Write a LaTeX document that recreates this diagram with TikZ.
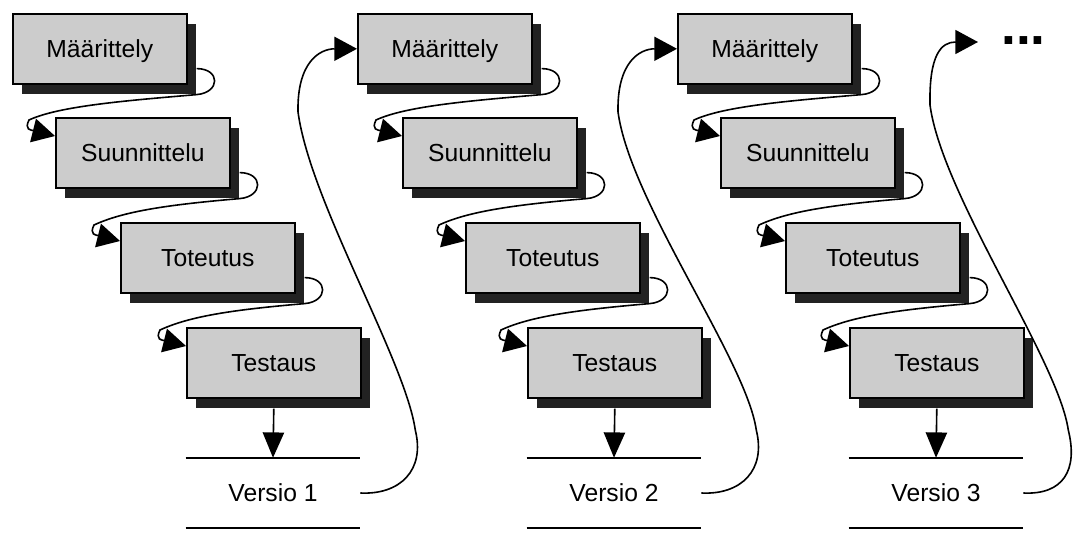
\documentclass[tikz,border=0pt]{standalone}
\usepackage{fontspec}
\setmainfont{Liberation Sans}
\usetikzlibrary{arrows.meta,calc,shadows}
\definecolor{boxfill}{RGB}{204,204,204}
\definecolor{shade}{RGB}{34,34,34}

% small looping link from one phase box to the next one
\newcommand\steplink[2]{%
  \draw[link] ($(#1.south east)+(9,-16)$)
    .. controls +(24,0) and +(24,-2) .. ($(#1.south east)+(9,10)$)
    .. controls +(-70,6) and +(30,-14) .. ($(#2.north west)+(-26,3)$)
    .. controls +(-5,10) and +(-24,-6) .. ($(#2.north west)+(0,19)$);}

% long S-shaped link from a release back up to the next cycle
% #1 release node, #2 target, #3 outward bulge, #4 leftward bulge
\newcommand\versiolink[4]{%
  \draw[link] (#1.east)
    .. controls +(40,2) and +(10,40) .. ($(#1.east)+(#3,-63)$)
    .. controls +(-10,-70) and +(12,90) .. ($(#2)+(#4,63)$)
    .. controls +(-1,-50) and +(-37,0) .. (#2);}

\begin{document}
\begin{tikzpicture}[x=0.75pt,y=-0.75pt,
  phase/.style={draw=black, line width=1.2pt, fill=boxfill,
    minimum width=130.5pt, minimum height=52.5pt, inner sep=0pt,
    anchor=north west, text height=13pt, text depth=0pt,
    font=\fontsize{18.5}{20}\selectfont,
    drop shadow={shadow xshift=6.75pt, shadow yshift=-7.5pt,
      fill=shade, opacity=1}},
  versio/.style={minimum width=130.5pt, minimum height=52.5pt,
    inner sep=0pt, text height=13pt, text depth=0pt,
    font=\fontsize{18.5}{20}\selectfont},
  rule/.style={line width=1.2pt},
  link/.style={line width=1.2pt, -{Triangle[length=17pt,width=18pt]}},
  drop/.style={line width=1.2pt, -{Triangle[length=19pt,width=16pt]}}]
\useasboundingbox (0,0) rectangle (1077,532);

% first cycle
\node[phase] (m1) at (12,13)   {Määrittely};
\node[phase] (s1) at (55,117)  {Suunnittelu};
\node[phase] (t1) at (120,222) {Toteutus};
\node[phase] (e1) at (186,327) {Testaus};
\node[versio] (v1) at (273,493) {Versio 1};

% second cycle
\node[phase] (m2) at (357,13)  {Määrittely};
\node[phase] (s2) at (402,117) {Suunnittelu};
\node[phase] (t2) at (465,222) {Toteutus};
\node[phase] (e2) at (527,327) {Testaus};
\node[versio] (v2) at (614,493) {Versio 2};

% third cycle
\node[phase] (m3) at (677,13)  {Määrittely};
\node[phase] (s3) at (720,117) {Suunnittelu};
\node[phase] (t3) at (785,222) {Toteutus};
\node[phase] (e3) at (849,327) {Testaus};
\node[versio] (v3) at (936,493) {Versio 3};

% continuation
\coordinate (more) at (978,42);
\node[anchor=base west, inner sep=0pt,
  font=\fontsize{40}{40}\selectfont\bfseries] (dots) at (1001,44) {...};

\foreach \a/\b in {m1/s1, s1/t1, t1/e1, m2/s2, s2/t2, t2/e2, m3/s3, s3/t3, t3/e3}
  {\steplink{\a}{\b}}

\foreach \e/\v in {e1/v1, e2/v2, e3/v3} {
  \draw[drop] ($(\e.south)+(0,10)$) -- (\v.north);
  \draw[rule] (\v.north west) -- (\v.north east);
  \draw[rule] (\v.south west) -- (\v.south east);
}

\versiolink{v1}{m2.west}{55}{-59}
\versiolink{v2}{m3.west}{55}{-59}
\versiolink{v3}{more}{45}{-48}
\end{tikzpicture}
\end{document}
